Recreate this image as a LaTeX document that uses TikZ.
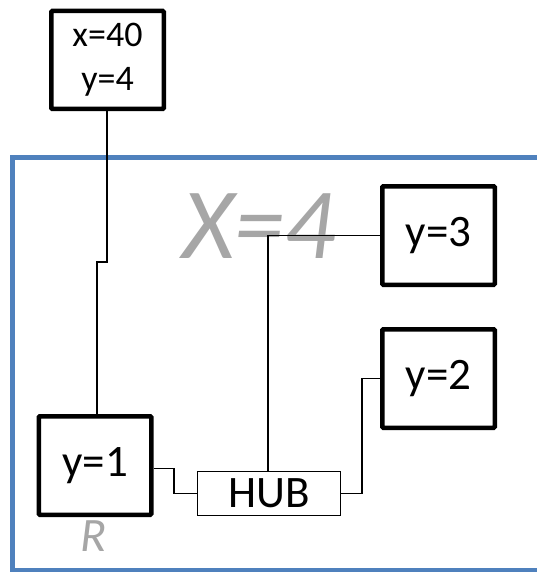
\documentclass[tikz,border=0pt]{standalone}
\usepackage{fontspec}
\setmainfont{Carlito}
\usetikzlibrary{calc}
\definecolor{frameblue}{HTML}{4F81BD}
\definecolor{labelgray}{HTML}{A6A6A6}
\begin{document}
\begin{tikzpicture}[x=1pt,y=-1pt,
  thickbox/.style={draw=black,line width=4.5pt,rounded corners=1pt,minimum width=112.5pt,minimum height=98.5pt,inner sep=0pt,font=\fontsize{45}{48}\selectfont},
  hubbox/.style={draw=black,line width=1.2pt,minimum width=143pt,minimum height=44.5pt,inner sep=0pt,font=\fontsize{45}{48}\selectfont},
  wire/.style={draw=black,line width=1.3pt},
  graylabel/.style={text=labelgray,font=\itshape,inner sep=0pt}]
\useasboundingbox (0,0) rectangle (537,572);
% frame
\draw[frameblue,line width=5pt] (537,158) -- (12.5,158) -- (12.5,570) -- (537,570);
% labels
\node[graylabel,font=\fontsize{101}{104}\selectfont\itshape,anchor=base] (xlab) at (259,258) {X=4};
\node[graylabel,font=\fontsize{48}{50}\selectfont\itshape,anchor=base] (rlab) at (93.5,551) {R};
% nodes
\node[thickbox,minimum height=98pt,align=center,font=\fontsize{36}{44}\selectfont] (top) at (107.5,60) {\raisebox{-3pt}{x=40}\\\raisebox{-3pt}{y=4}};
\node[thickbox] (y3) at (438.5,235.5) {y=3};
\node[thickbox] (y2) at (438.5,378.5) {y=2};
\node[thickbox] (y1) at (95,465.5) {y=1};
\node[hubbox] (hub) at (269,493.5) {HUB};
% connectors
\coordinate (jog) at (107,262);
\draw[wire] ([xshift=-0.5pt]top.south) -- (jog) -| ([xshift=2pt]y1.north);
\draw[wire] ([yshift=-3pt]y1.east) -| ($(hub.west)+(-23,0)$) -- (hub.west);
\draw[wire] ([xshift=-1pt]hub.north) |- (y3.west);
\draw[wire] (hub.east) -- ++(21,0) |- (y2.west);
\end{tikzpicture}
\end{document}
